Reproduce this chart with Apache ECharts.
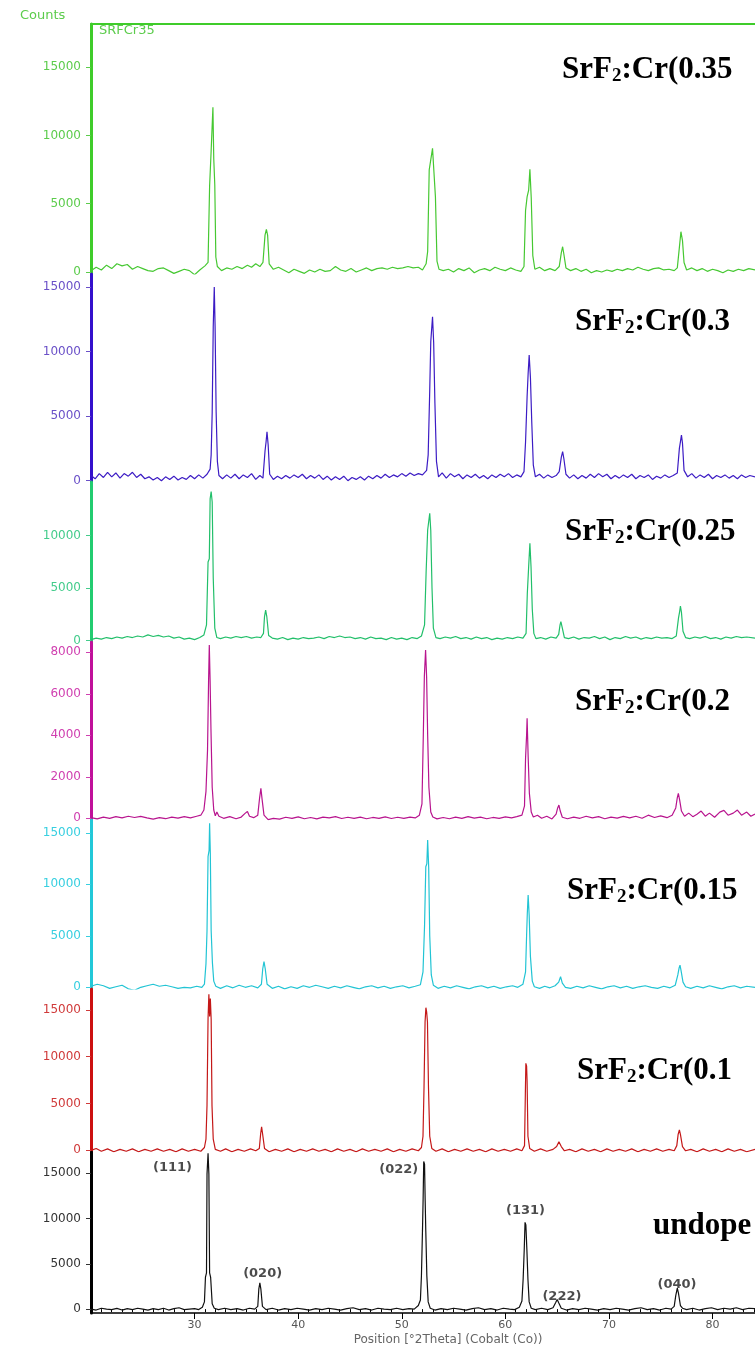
<!DOCTYPE html>
<html>
<head>
<meta charset="utf-8">
<script src="https://cdn.jsdelivr.net/npm/echarts@6/dist/echarts.min.js"></script>
<style>
  html, body { margin: 0; padding: 0; background: #fff; }
  #chart { width: 755px; height: 1347px; }
</style>
</head>
<body>
<div id="chart"></div>
<script>
// XRD patterns, position in degrees 2Theta vs counts
const xTickLabels = [30, 40, 50, 60, 70, 80];
const xMinorTicks = [21,22,23,24,25,26,27,28,29,31,32,33,34,35,36,37,38,39,41,42,43,44,45,46,47,48,49,
  51,52,53,54,55,56,57,58,59,61,62,63,64,65,66,67,68,69,71,72,73,74,75,76,77,78,79,81,82,83,84];

const sampleNames = ['0.35', '0.3', '0.25', '0.2', '0.15', '0.1', 'undope'];

const yTicks = [
  [0, 5000, 10000, 15000],
  [0, 5000, 10000, 15000],
  [0, 5000, 10000],
  [0, 2000, 4000, 6000, 8000],
  [0, 5000, 10000, 15000],
  [0, 5000, 10000, 15000],
  [0, 5000, 10000, 15000]
];

const hklNames = ['(111)', '(020)', '(022)', '(131)', '(222)', '(040)'];
const hklX = [27.87, 36.57, 49.71, 61.95, 65.46, 76.57];
const hklY = [15670, 3940, 15430, 10900, 1380, 2660];

const cr035 = [
  [20.0,100],[20.5,350],[21.0,150],[21.5,500],[22.0,250],[22.5,600],[23.0,450],[23.5,550],[24.0,200],[24.5,400],[25.0,250],[25.5,100],[26.0,50],[26.5,250],[27.0,300],[27.5,100],[28.0,-100],[28.5,50],[29.0,200],[29.5,100],[30.0,-200],[30.5,150],[31.0,450],[31.3,700],
  [31.45,6300],[31.6,8900],[31.7,9000],[31.77,12060],[31.85,8300],[31.95,6370],[32.05,1100],[32.2,400],
  [32.6,100],[33.1,300],[33.6,200],[34.1,400],[34.6,250],[35.1,500],[35.5,350],[35.9,600],[36.3,400],[36.6,700],
  [36.8,2700],[36.93,3120],[37.05,2700],[37.2,600],
  [37.6,200],[38.1,350],[38.6,150],[39.1,-50],[39.6,200],[40.1,50],[40.6,-100],[41.1,150],[41.6,0],[42.1,200],[42.6,50],[43.1,100],[43.6,400],[44.1,150],[44.6,50],[45.1,250],[45.6,0],[46.1,150],[46.6,300],[47.1,100],[47.6,250],[48.1,300],[48.6,200],[49.1,350],[49.6,250],[50.1,300],[50.6,400],[51.1,300],[51.6,350],[52.0,150],[52.35,600],
  [52.5,1500],[52.65,7470],[52.8,7500],[52.97,9050],[53.1,7400],[53.25,5500],[53.4,800],[53.6,200],
  [54.0,100],[54.5,200],[55.0,0],[55.5,250],[56.0,100],[56.5,300],[57.0,-50],[57.5,150],[58.0,250],[58.5,100],[59.0,350],[59.5,200],[60.0,100],[60.5,300],[61.0,150],[61.5,50],[61.8,400],
  [61.95,4500],[62.1,5500],[62.25,6000],[62.37,7520],[62.5,5400],[62.65,1200],[62.85,200],
  [63.3,350],[63.8,100],[64.3,250],[64.8,100],[65.2,400],[65.4,1400],[65.53,1850],[65.65,1300],[65.85,300],
  [66.3,100],[66.8,250],[67.3,50],[67.8,200],[68.3,-50],[68.8,100],[69.3,0],[69.8,150],[70.3,50],[70.8,200],[71.3,100],[71.8,250],[72.3,150],[72.8,350],[73.3,200],[73.8,100],[74.3,250],[74.8,300],[75.3,150],[75.8,200],[76.3,100],[76.6,300],
  [76.8,1800],[76.95,2950],[77.1,2300],[77.25,700],[77.5,150],
  [78.0,300],[78.5,100],[79.0,250],[79.5,50],[80.0,200],[80.5,100],[81.0,-50],[81.5,150],[82.0,50],[82.5,200],[83.0,100],[83.5,250],[84.1,150]
];

const cr030 = [
  [20.0,400],[20.4,150],[20.8,550],[21.2,250],[21.6,650],[22.0,300],[22.4,600],[22.8,200],[23.2,550],[23.6,350],[24.0,650],[24.4,250],[24.8,500],[25.2,150],[25.6,300],[26.0,50],[26.4,250],[26.8,0],[27.2,300],[27.6,100],[28.0,350],[28.4,50],[28.8,250],[29.2,100],[29.6,400],[30.0,150],[30.4,450],[30.8,200],[31.2,500],[31.5,900],
  [31.6,2000],[31.7,5300],[31.8,11900],[31.9,15000],[31.98,11900],[32.08,5340],[32.2,1500],[32.35,400],
  [32.7,150],[33.1,450],[33.5,200],[33.9,500],[34.3,150],[34.7,450],[35.1,250],[35.5,550],[35.9,100],[36.3,400],[36.6,200],
  [36.8,2300],[36.9,3000],[36.99,3790],[37.1,2800],[37.25,500],
  [37.6,100],[38.0,350],[38.4,150],[38.8,400],[39.2,200],[39.6,450],[40.0,250],[40.4,500],[40.8,150],[41.2,400],[41.6,200],[42.0,450],[42.4,100],[42.8,350],[43.2,50],[43.6,300],[44.0,100],[44.4,350],[44.8,0],[45.2,250],[45.6,100],[46.0,300],[46.4,50],[46.8,350],[47.2,150],[47.6,400],[48.0,200],[48.4,500],[48.8,250],[49.2,450],[49.6,300],[50.0,550],[50.4,350],[50.8,600],[51.2,400],[51.6,550],[52.0,450],[52.4,800],
  [52.55,2000],[52.7,7000],[52.8,10760],[52.97,12690],[53.08,10700],[53.2,6000],[53.35,1500],[53.55,300],
  [53.9,600],[54.3,200],[54.7,550],[55.1,300],[55.5,500],[55.9,150],[56.3,450],[56.7,250],[57.1,500],[57.5,200],[57.9,400],[58.3,150],[58.7,450],[59.1,250],[59.5,500],[59.9,300],[60.3,550],[60.7,250],[61.1,450],[61.5,300],[61.8,700],
  [61.95,3000],[62.1,6500],[62.2,8300],[62.3,9730],[62.42,8000],[62.55,4500],[62.7,1200],[62.9,300],
  [63.3,500],[63.7,200],[64.1,450],[64.5,250],[64.9,400],[65.2,700],[65.4,1800],[65.53,2245],[65.65,1700],[65.85,500],
  [66.2,200],[66.6,450],[67.0,150],[67.4,400],[67.8,200],[68.2,500],[68.6,250],[69.0,550],[69.4,300],[69.8,500],[70.2,150],[70.6,400],[71.0,200],[71.4,450],[71.8,250],[72.2,500],[72.6,150],[73.0,400],[73.4,250],[73.8,450],[74.2,100],[74.6,350],[75.0,200],[75.4,450],[75.8,250],[76.2,400],[76.6,600],
  [76.8,2500],[76.9,3000],[77.0,3540],[77.1,2900],[77.25,800],
  [77.6,300],[78.0,550],[78.4,200],[78.8,450],[79.2,250],[79.6,500],[80.0,150],[80.4,400],[80.8,250],[81.2,450],[81.6,200],[82.0,400],[82.4,150],[82.8,450],[83.2,250],[83.6,400],[84.1,300]
];

const cr025 = [
  [20.0,100],[20.5,250],[21.0,150],[21.5,300],[22.0,200],[22.5,350],[23.0,250],[23.5,400],[24.0,300],[24.5,450],[25.0,350],[25.5,550],[26.0,400],[26.5,500],[27.0,350],[27.5,450],[28.0,250],[28.5,350],[29.0,150],[29.5,250],[30.0,100],[30.5,300],[30.9,550],[31.15,1500],
  [31.3,7500],[31.42,7800],[31.5,13500],[31.6,14190],[31.7,13200],[31.8,6000],[31.95,1200],[32.15,300],
  [32.5,200],[33.0,350],[33.5,250],[34.0,400],[34.5,300],[35.0,400],[35.5,250],[36.0,350],[36.4,300],[36.65,700],
  [36.75,2300],[36.86,2920],[36.97,2300],[37.15,500],
  [37.5,250],[38.0,150],[38.5,300],[39.0,100],[39.5,250],[40.0,150],[40.5,300],[41.0,200],[41.5,250],[42.0,350],[42.5,200],[43.0,400],[43.5,300],[44.0,450],[44.5,300],[45.0,350],[45.5,200],[46.0,300],[46.5,150],[47.0,350],[47.5,200],[48.0,250],[48.5,100],[49.0,300],[49.5,150],[50.0,250],[50.5,100],[51.0,300],[51.5,200],[51.9,450],[52.2,1500],
  [52.35,6500],[52.5,10540],[52.6,10600],[52.7,12130],[52.8,10500],[52.92,5000],[53.05,1200],[53.3,300],
  [53.7,200],[54.2,350],[54.7,250],[55.2,400],[55.7,200],[56.2,300],[56.7,150],[57.2,350],[57.7,200],[58.2,300],[58.7,100],[59.2,250],[59.7,150],[60.2,300],[60.7,200],[61.2,350],[61.7,250],[62.0,700],
  [62.12,4500],[62.25,7050],[62.37,9270],[62.48,7000],[62.6,3000],[62.75,700],[62.95,200],
  [63.4,300],[63.9,150],[64.4,350],[64.9,250],[65.15,600],[65.28,1500],[65.36,1810],[65.48,1300],[65.7,300],
  [66.1,200],[66.6,350],[67.1,150],[67.6,300],[68.1,250],[68.6,400],[69.1,200],[69.6,350],[70.1,100],[70.6,300],[71.1,200],[71.6,400],[72.1,250],[72.6,350],[73.1,150],[73.6,300],[74.1,200],[74.6,350],[75.1,250],[75.6,300],[76.1,200],[76.5,450],
  [76.72,2200],[76.83,2800],[76.9,3300],[77.0,2700],[77.15,900],[77.4,300],
  [77.8,200],[78.3,350],[78.8,250],[79.3,400],[79.8,200],[80.3,300],[80.8,150],[81.3,350],[81.8,250],[82.3,400],[82.8,300],[83.3,350],[84.1,250]
];

const cr020 = [
  [20.0,30],[20.6,-30],[21.2,60],[21.8,0],[22.4,80],[23.0,20],[23.6,100],[24.2,40],[24.8,90],[25.4,20],[26.0,-40],[26.6,30],[27.2,-20],[27.8,60],[28.4,10],[29.0,80],[29.6,20],[30.2,100],[30.6,150],[30.9,400],[31.1,1300],
  [31.25,3300],[31.35,6600],[31.42,8350],[31.5,6600],[31.58,4300],[31.7,1500],[31.85,400],[32.0,120],[32.15,300],[32.35,100],
  [32.8,0],[33.4,80],[34.0,-20],[34.5,60],[34.9,250],[35.1,330],[35.3,100],[35.7,30],[36.1,150],
  [36.28,1000],[36.4,1450],[36.52,900],[36.7,150],
  [37.1,-60],[37.6,0],[38.2,-40],[38.8,50],[39.4,0],[40.0,70],[40.6,-20],[41.2,40],[41.8,-30],[42.4,60],[43.0,20],[43.6,80],[44.2,-10],[44.8,50],[45.4,0],[46.0,60],[46.6,-20],[47.2,40],[47.8,0],[48.4,70],[49.0,-10],[49.6,50],[50.2,0],[50.8,60],[51.3,20],[51.7,150],[51.95,700],
  [52.08,4000],[52.18,6830],[52.3,8110],[52.4,6800],[52.5,4000],[52.62,1500],[52.8,300],[53.0,60],
  [53.4,-30],[54.0,40],[54.6,-20],[55.2,60],[55.8,0],[56.4,80],[57.0,10],[57.6,60],[58.2,-20],[58.8,40],[59.4,0],[60.0,70],[60.6,20],[61.1,80],[61.6,150],[61.85,600],
  [61.95,2890],[62.05,4000],[62.1,4820],[62.2,3000],[62.32,1200],[62.5,300],[62.7,60],
  [63.1,150],[63.5,0],[64.0,100],[64.5,-30],[64.9,200],[65.05,500],[65.17,640],[65.3,350],[65.5,50],
  [66.0,-20],[66.6,60],[67.2,0],[67.8,100],[68.4,20],[69.0,80],[69.6,-20],[70.2,60],[70.8,10],[71.4,90],[72.0,20],[72.6,100],[73.2,0],[73.8,150],[74.4,40],[75.0,120],[75.6,30],[76.1,150],[76.45,500],
  [76.6,1000],[76.7,1200],[76.82,900],[77.0,350],[77.3,100],
  [77.7,250],[78.1,80],[78.5,200],[78.9,350],[79.3,100],[79.7,250],[80.2,50],[80.7,300],[81.1,380],[81.5,150],[82.0,250],[82.4,400],[82.8,150],[83.3,300],[83.7,100],[84.1,200]
];

const cr015 = [
  [20.0,100],[20.6,300],[21.2,150],[21.8,-100],[22.4,50],[23.0,200],[23.6,-150],[24.2,-300],[24.8,0],[25.4,150],[26.0,300],[26.6,100],[27.2,200],[27.8,50],[28.4,-100],[29.0,0],[29.6,-50],[30.2,100],[30.7,0],[30.95,300],[31.1,2300],
  [31.2,5500],[31.3,12680],[31.4,13300],[31.45,15920],[31.52,13000],[31.6,5500],[31.72,2400],[31.85,600],[32.05,100],
  [32.5,-100],[33.1,150],[33.7,-50],[34.3,200],[34.9,0],[35.5,150],[36.1,-50],[36.45,300],
  [36.58,1800],[36.7,2490],[36.82,1800],[37.0,300],
  [37.5,-100],[38.1,100],[38.7,-150],[39.3,50],[39.9,-100],[40.5,150],[41.1,0],[41.7,200],[42.3,50],[42.9,-100],[43.5,100],[44.1,-50],[44.7,150],[45.3,0],[45.9,-150],[46.5,50],[47.1,150],[47.7,-50],[48.3,100],[48.9,-100],[49.5,50],[50.1,150],[50.7,-50],[51.3,100],[51.8,250],[52.05,1500],
  [52.2,6000],[52.32,11710],[52.42,12000],[52.5,14300],[52.6,11600],[52.7,5000],[52.85,1200],[53.05,200],
  [53.5,-100],[54.1,100],[54.7,-50],[55.3,150],[55.9,0],[56.5,-150],[57.1,50],[57.7,150],[58.3,-50],[58.9,100],[59.5,-100],[60.1,50],[60.7,150],[61.2,0],[61.7,300],[61.95,1500],
  [62.05,5000],[62.12,7190],[62.2,8960],[62.3,7000],[62.42,3000],[62.6,600],[62.8,50],
  [63.3,-100],[63.8,100],[64.3,-50],[64.8,150],[65.15,500],[65.33,1030],[65.5,400],[65.8,0],
  [66.3,-100],[66.9,100],[67.5,-50],[68.1,150],[68.7,0],[69.3,-150],[69.9,50],[70.5,150],[71.1,-50],[71.7,100],[72.3,-100],[72.9,50],[73.5,150],[74.1,0],[74.7,-100],[75.3,100],[75.9,-50],[76.4,200],[76.65,1200],
  [76.78,1900],[76.86,2160],[76.95,1700],[77.15,500],[77.4,50],
  [77.9,-100],[78.5,100],[79.1,-50],[79.7,150],[80.3,0],[80.9,-150],[81.5,50],[82.1,150],[82.7,-50],[83.3,100],[84.1,0]
];

const cr010 = [
  [20.0,0],[20.5,200],[21.0,-100],[21.6,150],[22.2,-150],[22.8,100],[23.4,-100],[24.0,150],[24.6,-150],[25.2,100],[25.8,-100],[26.4,150],[27.0,-100],[27.6,100],[28.2,-150],[28.8,150],[29.4,-100],[30.0,100],[30.6,-100],[30.95,300],[31.1,1200],
  [31.2,4840],[31.3,14100],[31.38,16660],[31.45,14300],[31.52,16200],[31.6,14000],[31.68,4800],[31.8,1200],[32.0,100],
  [32.5,-100],[33.0,150],[33.6,-150],[34.2,100],[34.8,-100],[35.4,150],[35.9,-50],[36.25,200],
  [36.38,1800],[36.47,2520],[36.56,1800],[36.75,200],
  [37.2,-150],[37.8,100],[38.4,-100],[39.0,150],[39.6,-150],[40.2,100],[40.8,-100],[41.4,150],[42.0,-100],[42.6,100],[43.2,-150],[43.8,150],[44.4,-100],[45.0,100],[45.6,-150],[46.2,150],[46.8,-100],[47.4,100],[48.0,-100],[48.6,150],[49.2,-150],[49.8,100],[50.4,-100],[51.0,150],[51.6,-50],[51.9,300],[52.05,1500],
  [52.15,6790],[52.25,13730],[52.33,15230],[52.4,14800],[52.48,13700],[52.58,6700],[52.7,1500],[52.9,200],
  [53.3,-100],[53.9,150],[54.5,-150],[55.1,100],[55.7,-100],[56.3,150],[56.9,-100],[57.5,100],[58.1,-150],[58.7,150],[59.3,-100],[59.9,100],[60.5,-100],[61.1,150],[61.6,-50],[61.85,500],
  [61.93,6000],[61.98,9290],[62.05,9000],[62.1,7330],[62.18,1500],[62.35,200],
  [62.8,-100],[63.4,150],[64.0,-100],[64.6,100],[64.95,400],[65.17,920],[65.4,400],[65.7,-50],
  [66.2,100],[66.8,-150],[67.4,150],[68.0,-100],[68.6,100],[69.2,-150],[69.8,150],[70.4,-100],[71.0,100],[71.6,-100],[72.2,150],[72.8,-150],[73.4,100],[74.0,-100],[74.6,150],[75.2,-100],[75.8,100],[76.3,-50],[76.55,500],
  [76.68,1700],[76.8,2170],[76.9,1700],[77.1,400],[77.4,-50],
  [77.9,100],[78.5,-150],[79.1,150],[79.7,-100],[80.3,100],[80.9,-150],[81.5,150],[82.1,-100],[82.7,100],[83.3,-150],[84.1,100]
];

const undoped = [
  [20.0,0],[20.5,-100],[21.0,100],[21.5,0],[22.0,-50],[22.5,80],[23.0,-100],[23.5,50],[24.0,-50],[24.5,100],[25.0,0],[25.5,-100],[26.0,50],[26.5,-50],[27.0,100],[27.5,-100],[28.0,50],[28.5,150],[29.0,-50],[29.5,0],[30.0,50],[30.4,-50],[30.75,200],[30.95,800],
  [31.05,3540],[31.15,4000],[31.2,14900],[31.3,17200],[31.38,14900],[31.45,4000],[31.55,3500],[31.7,600],[31.9,100],
  [32.3,-50],[32.9,100],[33.5,-50],[34.1,50],[34.7,-100],[35.3,100],[35.8,0],[36.1,300],
  [36.2,2200],[36.3,2900],[36.4,2200],[36.55,300],
  [36.9,-50],[37.5,100],[38.1,-100],[38.7,50],[39.3,-50],[39.9,100],[40.5,0],[41.1,-100],[41.7,50],[42.3,-50],[42.9,100],[43.5,0],[44.1,-100],[44.7,50],[45.3,150],[45.9,-50],[46.5,50],[47.1,-100],[47.7,100],[48.3,0],[48.9,-50],[49.5,100],[50.1,-50],[50.7,50],[51.2,0],[51.6,400],[51.8,1000],
  [51.9,3720],[52.0,8690],[52.06,12050],[52.12,16300],[52.2,16000],[52.26,12000],[52.32,8600],[52.42,3700],[52.55,800],[52.75,100],
  [53.2,-100],[53.8,50],[54.4,-50],[55.0,100],[55.6,0],[56.2,-100],[56.8,50],[57.4,150],[58.0,-50],[58.6,50],[59.2,-100],[59.8,100],[60.4,0],[60.9,-50],[61.35,200],[61.6,900],
  [61.72,3370],[61.82,6500],[61.9,9580],[61.98,9300],[62.08,6500],[62.18,3300],[62.3,800],[62.5,100],
  [62.9,-50],[63.5,100],[64.1,-50],[64.6,150],[64.85,700],[65.0,1064],[65.15,700],[65.4,100],
  [65.9,-100],[66.5,50],[67.1,-50],[67.7,100],[68.3,0],[68.9,-100],[69.5,50],[70.1,-50],[70.7,100],[71.3,0],[71.9,-100],[72.5,50],[73.1,150],[73.7,-50],[74.3,50],[74.9,-100],[75.5,100],[76.0,0],[76.3,300],
  [76.45,1500],[76.6,2310],[76.72,1700],[76.9,400],[77.1,100],
  [77.5,-50],[78.1,100],[78.7,-100],[79.3,50],[79.9,150],[80.5,-50],[81.1,100],[81.7,0],[82.3,150],[82.9,-50],[83.5,100],[84.1,50]
];

const patterns = [cr035, cr030, cr025, cr020, cr015, cr010, undoped];

// layout of the stacked panels (px) and their count ranges
const gridTop    = [24, 274, 482, 642, 820, 989, 1152];
const gridBottom = [274, 482, 642, 820, 989, 1152, 1319];
const yMin = [-146, -100, -124, -82, -165, -180, -426];
const yMax = [18155, 16000, 15110, 8500, 16245, 17230, 17340];

const lineColors  = ['#46c832', '#3c1cc4', '#22bf6a', '#b8148e', '#22c4d4', '#c41818', '#111111'];
const axisColors  = ['#3fcc2a', '#3410cc', '#22cc70', '#c0109a', '#22c8d8', '#cc1010', '#000000'];
const labelColors = ['#5ccc4c', '#6a50c8', '#44cc8c', '#d040b0', '#38cfe0', '#d03a3a', '#333333'];
const labelY = [70, 322, 532, 702, 891, 1071, 1226];
const labelX = [562, 575, 565, 575, 567, 577, 653];

const chart = echarts.init(document.getElementById('chart'), null, { renderer: 'canvas' });

const grids = [], xAxes = [], yAxes = [], series = [];
const last = patterns.length - 1;

patterns.forEach((data, i) => {
  grids.push({ left: 91, right: 0, top: gridTop[i], height: gridBottom[i] - gridTop[i] });

  xAxes.push({
    gridIndex: i, type: 'value', min: 20, max: 84.1,
    show: i === 0 || i === last,
    position: i === 0 ? 'top' : 'bottom',
    axisLine: { onZero: false, lineStyle: { color: i === 0 ? axisColors[0] : '#000', width: i === 0 ? 2 : 1.5 } },
    axisTick: i === last
      ? { show: true, customValues: xTickLabels, length: 6, lineStyle: { color: '#000' } }
      : { show: false },
    axisLabel: i === last
      ? { show: true, customValues: xTickLabels, color: '#555', fontSize: 11, fontFamily: 'DejaVu Sans', margin: 7,
          formatter: v => String(v) }
      : { show: false },
    splitLine: { show: false },
    name: i === last ? 'Position [°2Theta] (Cobalt (Co))' : '',
    nameLocation: 'middle',
    nameGap: 21,
    nameTextStyle: { color: '#666', fontSize: 12, fontFamily: 'DejaVu Sans', padding: [0, 0, 0, 50] }
  });

  yAxes.push({
    gridIndex: i, type: 'value', min: yMin[i], max: yMax[i],
    axisLine: { show: true, onZero: false, lineStyle: { color: axisColors[i], width: 3 } },
    axisTick: { show: true, customValues: yTicks[i], length: 5, lineStyle: { color: labelColors[i] } },
    axisLabel: { customValues: yTicks[i], color: labelColors[i], fontSize: 12, fontFamily: 'DejaVu Sans', margin: 10,
      formatter: v => String(v) },
    splitLine: { show: false }
  });

  series.push({
    type: 'line', xAxisIndex: i, yAxisIndex: i, data: data,
    showSymbol: false, symbol: 'none',
    lineStyle: { color: lineColors[i], width: 1.2 },
    animation: false
  });
});

// minor ticks every degree on the bottom axis
xAxes.push({
  gridIndex: last, type: 'value', min: 20, max: 84.1, position: 'bottom',
  axisLine: { show: false },
  axisTick: { show: true, customValues: xMinorTicks, length: 3, lineStyle: { color: '#000' } },
  axisLabel: { show: false },
  splitLine: { show: false }
});

// hkl labels for the undoped pattern
series.push({
  type: 'scatter', xAxisIndex: last, yAxisIndex: last, symbolSize: 0,
  data: hklNames.map((n, k) => [hklX[k], hklY[k], n]),
  label: {
    show: true, position: 'inside', formatter: p => p.data[2],
    color: '#1e1e1e', fontSize: 13, fontWeight: 'bold', fontFamily: 'DejaVu Sans'
  },
  silent: true, animation: false
});

const serif = 'Liberation Serif';
const graphics = sampleNames.map((name, i) => ({
  type: 'text', x: labelX[i], y: labelY[i],
  style: {
    text: i === last ? '{a|' + name + '}' : '{a|SrF}{b|2}{a|:Cr(' + name + '}',
    verticalAlign: 'middle', align: 'left', fill: '#000',
    rich: {
      a: { fontSize: 31, fontWeight: 'bold', fontFamily: serif, fill: '#000' },
      b: { fontSize: 19, fontWeight: 'bold', fontFamily: serif, fill: '#000', verticalAlign: 'bottom' }
    }
  }
}));
graphics.push({
  type: 'text', x: 20, y: 16,
  style: { text: 'Counts', fill: '#5ccc4c', fontSize: 13, fontFamily: 'DejaVu Sans', verticalAlign: 'middle' }
});
graphics.push({
  type: 'text', x: 99, y: 31,
  style: { text: 'SRFCr35', fill: '#5ccc4c', fontSize: 13, fontFamily: 'DejaVu Sans', verticalAlign: 'middle' }
});

chart.setOption({
  backgroundColor: '#ffffff',
  animation: false,
  grid: grids,
  xAxis: xAxes,
  yAxis: yAxes,
  series: series,
  graphic: graphics
});
</script>
</body>
</html>
